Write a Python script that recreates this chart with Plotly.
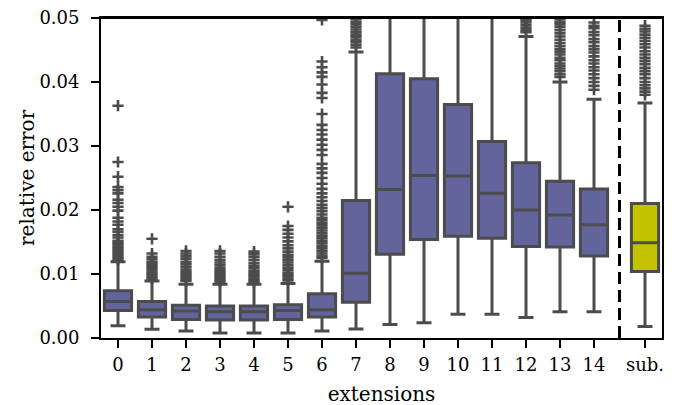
import plotly.graph_objects as go

categories = ["0", "1", "2", "3", "4", "5", "6", "7", "8", "9", "10", "11", "12", "13", "14", "sub."]
q1 = [0.0043, 0.0033, 0.0029, 0.0028, 0.0028, 0.0029, 0.0033, 0.0056, 0.0131, 0.0154, 0.0159, 0.0156, 0.0143, 0.0142, 0.0128, 0.0104]
median = [0.0057, 0.0044, 0.0042, 0.0041, 0.0041, 0.0043, 0.0044, 0.0101, 0.0232, 0.0254, 0.0253, 0.0226, 0.0200, 0.0192, 0.0177, 0.0149]
q3 = [0.0074, 0.0057, 0.0051, 0.0050, 0.0050, 0.0052, 0.0069, 0.0215, 0.0413, 0.0405, 0.0365, 0.0307, 0.0274, 0.0245, 0.0233, 0.0210]
lower = [0.0019, 0.00135, 0.0011, 0.0008, 0.0008, 0.0008, 0.0011, 0.0014, 0.0021, 0.0024, 0.0037, 0.0037, 0.0032, 0.0041, 0.0041, 0.0018]
upper = [0.0119, 0.0089, 0.0084, 0.0084, 0.0084, 0.0085, 0.0120, 0.0447, 0.065, 0.064, 0.062, 0.056, 0.0471, 0.0400, 0.0373, 0.0367]

outliers = {
    "0": [0.0363, 0.0275, 0.0252, 0.0236, 0.0231, 0.0226, 0.0216, 0.0211, 0.0205, 0.0199, 0.0188, 0.0182,
          0.0177, 0.0170, 0.0166, 0.0161, 0.0157, 0.0152, 0.0149, 0.0146, 0.0143, 0.0140, 0.0137, 0.0134,
          0.0131, 0.0128, 0.0125, 0.0122],
    "1": [0.0155, 0.0132, 0.0127, 0.0123, 0.0119, 0.0116, 0.0113, 0.0110, 0.0107, 0.0104, 0.0101, 0.0098,
          0.0095, 0.0092],
    "2": [0.0136, 0.0132, 0.0128, 0.0124, 0.0119, 0.0115, 0.0111, 0.0107, 0.0104, 0.0101, 0.0098, 0.0095,
          0.0092, 0.0089],
    "3": [0.0136, 0.0132, 0.0127, 0.0122, 0.0118, 0.0114, 0.0110, 0.0106, 0.0103, 0.0100, 0.0097, 0.0094,
          0.0091, 0.0088],
    "4": [0.0135, 0.0131, 0.0127, 0.0122, 0.0117, 0.0113, 0.0109, 0.0105, 0.0102, 0.0099, 0.0096, 0.0093,
          0.0090, 0.0088],
    "5": [0.0205, 0.0175, 0.0169, 0.0163, 0.0157, 0.0151, 0.0145, 0.0140, 0.0135, 0.0130, 0.0126, 0.0122,
          0.0118, 0.0114, 0.0110, 0.0106, 0.0102, 0.0099, 0.0096, 0.0093, 0.0090],
    "6": [0.0497, 0.0432, 0.0423, 0.0415, 0.0408, 0.0396, 0.0383, 0.0375, 0.0350, 0.0333, 0.0325, 0.0318,
          0.0310, 0.0302, 0.0294, 0.0286, 0.0272, 0.0265, 0.0258, 0.0250, 0.0241, 0.0233, 0.0226, 0.0220,
          0.0214, 0.0208, 0.0203, 0.0198, 0.0193, 0.0188, 0.0184, 0.0180, 0.0176, 0.0172, 0.0168, 0.0164,
          0.0160, 0.0156, 0.0152, 0.0148, 0.0144, 0.0140, 0.0136, 0.0132, 0.0128, 0.0125],
    "7": [0.0498, 0.0494, 0.0490, 0.0486, 0.0482, 0.0478, 0.0474, 0.0470, 0.0466, 0.0462, 0.0458, 0.0454],
    "8": [], "9": [], "10": [], "11": [],
    "12": [0.0499, 0.0496, 0.0493, 0.0489, 0.0485, 0.0481, 0.0478],
    "13": [0.0498, 0.0494, 0.0490, 0.0486, 0.0481, 0.0476, 0.0471, 0.0466, 0.0461, 0.0456, 0.0451, 0.0447,
           0.0443, 0.0438, 0.0434, 0.0429, 0.0425, 0.0421, 0.0417, 0.0412, 0.0408],
    "14": [0.0493, 0.0488, 0.0484, 0.0478, 0.0473, 0.0467, 0.0462, 0.0456, 0.0451, 0.0446, 0.0440, 0.0434,
           0.0429, 0.0423, 0.0418, 0.0412, 0.0406, 0.0400, 0.0394, 0.0388],
    "sub.": [0.0488, 0.0483, 0.0479, 0.0474, 0.0469, 0.0464, 0.0459, 0.0454, 0.0448, 0.0443, 0.0438, 0.0433,
             0.0428, 0.0422, 0.0417, 0.0412, 0.0406, 0.0400, 0.0395, 0.0390, 0.0385, 0.0380],
}

y_ticks = [0.0, 0.01, 0.02, 0.03, 0.04, 0.05]
y_ticklabels = ["0.00", "0.01", "0.02", "0.03", "0.04", "0.05"]

positions = [float(i) for i in range(15)] + [15.5]
LINE = "#4c4c4c"
BLUE = "#63649c"
YELLOW = "#c2c200"
FONT = "DejaVu Serif"

fig = go.Figure()
for i, cat in enumerate(categories):
    fig.add_trace(go.Box(
        x=[positions[i]], q1=[q1[i]], median=[median[i]], q3=[q3[i]],
        lowerfence=[lower[i]], upperfence=[upper[i]],
        width=0.8, whiskerwidth=0.55,
        fillcolor=YELLOW if cat == "sub." else BLUE,
        line=dict(color=LINE, width=3),
        boxpoints=False, showlegend=False, hoverinfo="skip",
    ))

ox, oy = [], []
for i, cat in enumerate(categories):
    for v in outliers[cat]:
        ox.append(positions[i])
        oy.append(v)
fig.add_trace(go.Scatter(
    x=ox, y=oy, mode="markers", showlegend=False, hoverinfo="skip",
    marker=dict(symbol="cross-thin", size=8, color=LINE, line=dict(color=LINE, width=2.6)),
))

fig.add_shape(type="line", xref="x", yref="paper", x0=14.75, x1=14.75, y0=0, y1=1,
              line=dict(color="black", width=3, dash="12px,6px"))
# top edge of the frame
fig.add_shape(type="line", xref="paper", yref="paper", x0=0, x1=1, y0=1, y1=1,
              line=dict(color="black", width=1.8), layer="above")

# y-axis title placed explicitly
fig.add_annotation(text="relative error", xref="paper", yref="paper", x=0, y=0.5,
                   xanchor="center", yanchor="middle", xshift=-74, textangle=-90,
                   showarrow=False, font=dict(family=FONT, size=20, color="black"))

# the page body adds an 8px offset; margins compensate so the plot area lands where the reference has it
fig.update_layout(
    width=681, height=405,
    margin=dict(l=93, r=27, t=10, b=75),
    paper_bgcolor="white", plot_bgcolor="white",
    font=dict(family=FONT, size=18, color="black"),
    xaxis=dict(
        range=[-0.5, 16.0], tickmode="array", tickvals=positions, ticktext=categories,
        showgrid=False, zeroline=False, showline=True, linecolor="black", linewidth=1.8, mirror=True,
        ticks="outside", ticklen=8, tickwidth=1.6, tickcolor="black", automargin=False,
        title=dict(text="extensions", standoff=13, font=dict(size=20)),
        tickfont=dict(size=18), ticklabelstandoff=1, ticklabeloverflow="allow",
    ),
    yaxis=dict(
        range=[0, 0.05], tickmode="array", tickvals=y_ticks, ticktext=y_ticklabels,
        showgrid=False, zeroline=False, showline=True, linecolor="black", linewidth=1.8, mirror=True,
        ticks="outside", ticklen=8, tickwidth=1.6, tickcolor="black", automargin=False,
        tickfont=dict(size=18), ticklabelstandoff=8, ticklabeloverflow="allow",
    ),
)

fig.write_html("out.html")
